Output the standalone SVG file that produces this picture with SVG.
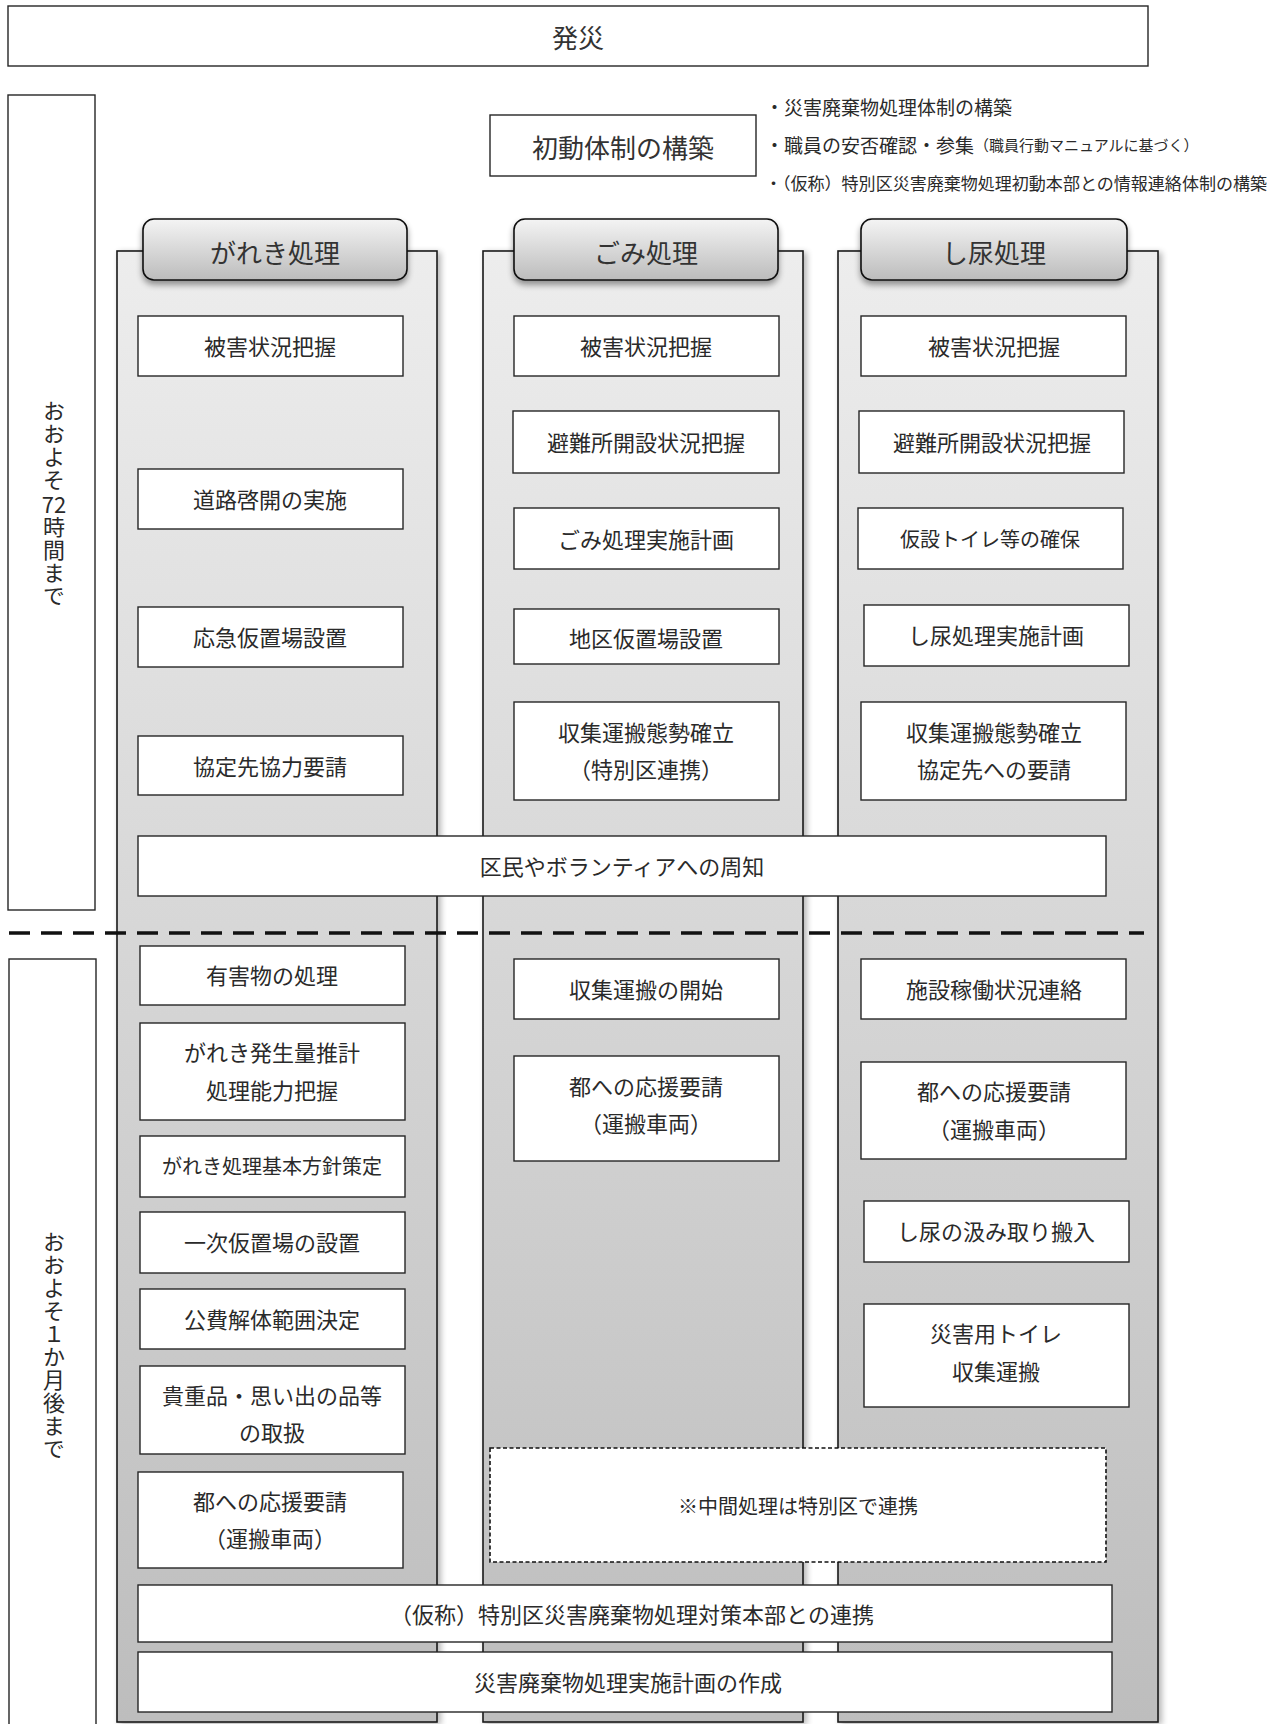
<svg xmlns="http://www.w3.org/2000/svg" width="1277" height="1724" viewBox="0 0 1277 1724">
<style>
.box{fill:#fff;stroke:#262626;stroke-width:1.4}
.dbox{fill:#fff;stroke:#111;stroke-width:1.6;stroke-dasharray:4 2.5}
.panel{stroke:#1a1a1a;stroke-width:1.6;fill:url(#pg)}
.hdr{stroke:#111;stroke-width:1.6;fill:url(#hg)}
.t{font-family:"Noto Sans CJK JP","Noto Sans CJK SC",sans-serif;font-size:22px;fill:#2a2a2a;text-anchor:middle;dominant-baseline:central}
.s{font-size:20px}
.h{font-size:26px;fill:#333}
.b{font-family:"Noto Sans CJK JP","Noto Sans CJK SC",sans-serif;font-size:19px;fill:#2a2a2a;dominant-baseline:central}
.b3{font-size:16.7px}
.v{font-family:"Noto Sans CJK JP","Noto Sans CJK SC",sans-serif;font-size:22px;fill:#2a2a2a;writing-mode:vertical-rl;text-orientation:upright;letter-spacing:1px}
</style>
<defs>
<linearGradient id="pg" x1="0" y1="0" x2="0" y2="1">
<stop offset="0" stop-color="#ededed"/>
<stop offset="1" stop-color="#bdbdbd"/>
</linearGradient>
<linearGradient id="hg" x1="0" y1="0" x2="0" y2="1">
<stop offset="0" stop-color="#f4f4f4"/>
<stop offset="1" stop-color="#bcbcbc"/>
</linearGradient>
<filter id="sh" x="-10%" y="-5%" width="125%" height="115%">
<feGaussianBlur in="SourceAlpha" stdDeviation="3"/>
<feOffset dx="3" dy="2"/>
<feComponentTransfer><feFuncA type="linear" slope="0.3"/></feComponentTransfer>
<feMerge><feMergeNode/><feMergeNode in="SourceGraphic"/></feMerge>
</filter>
<filter id="hs" x="-10%" y="-20%" width="120%" height="160%">
<feGaussianBlur in="SourceAlpha" stdDeviation="3"/>
<feOffset dx="0" dy="4"/>
<feComponentTransfer><feFuncA type="linear" slope="0.4"/></feComponentTransfer>
<feMerge><feMergeNode/><feMergeNode in="SourceGraphic"/></feMerge>
</filter>
</defs>
<rect width="1277" height="1724" fill="#fff"/>

<g id="hassai"><rect class="box" x="8" y="6" width="1140" height="60"/><text class="t h" x="578" y="36">発災</text></g>

<g id="period1"><rect class="box" x="8" y="95" width="87" height="815"/>
<text class="v" x="54" y="400">おおよそ</text>
<text class="t" x="54" y="503">72</text>
<text class="v" x="54" y="516">時間まで</text></g>
<g id="period2"><rect class="box" x="9" y="959" width="87" height="780"/>
<text class="v" x="54" y="1231">おおよそ１か月後まで</text></g>

<g id="shodo"><rect class="box" x="490" y="115" width="266" height="61"/><text class="t h" x="623" y="146">初動体制の構築</text></g>
<g id="bullets">
<text class="b" x="765" y="106">・災害廃棄物処理体制の構築</text>
<text class="b" x="765" y="144">・職員の安否確認・参集<tspan font-size="15">（職員行動マニュアルに基づく）</tspan></text>
<text class="b b3" x="765" y="183" textLength="502" lengthAdjust="spacingAndGlyphs">・（仮称）特別区災害廃棄物処理初動本部との情報連絡体制の構築</text>
</g>

<g id="col-gareki"><rect class="panel" filter="url(#sh)" x="117" y="251" width="320" height="1471"/>
<rect class="hdr" filter="url(#hs)" x="143" y="219" width="264" height="61" rx="11"/><text class="t h" x="275" y="251">がれき処理</text></g>
<g id="col-gomi"><rect class="panel" filter="url(#sh)" x="483" y="251" width="320" height="1471"/>
<rect class="hdr" filter="url(#hs)" x="514" y="219" width="264" height="61" rx="11"/><text class="t h" x="646" y="251">ごみ処理</text></g>
<g id="col-shinyo"><rect class="panel" filter="url(#sh)" x="838" y="251" width="320" height="1471"/>
<rect class="hdr" filter="url(#hs)" x="861" y="219" width="266" height="61" rx="11"/><text class="t h" x="994" y="251">し尿処理</text></g>

<g id="g1"><rect class="box" x="138" y="316" width="265" height="60"/><text class="t" x="270" y="345">被害状況把握</text></g>
<g id="g2"><rect class="box" x="138" y="469" width="265" height="60"/><text class="t" x="270" y="498">道路啓開の実施</text></g>
<g id="g3"><rect class="box" x="138" y="607" width="265" height="60"/><text class="t" x="270" y="636">応急仮置場設置</text></g>
<g id="g4"><rect class="box" x="138" y="736" width="265" height="59"/><text class="t" x="270" y="765">協定先協力要請</text></g>

<g id="m1"><rect class="box" x="514" y="316" width="265" height="60"/><text class="t" x="646" y="345">被害状況把握</text></g>
<g id="m2"><rect class="box" x="513" y="411" width="266" height="62"/><text class="t" x="646" y="441">避難所開設状況把握</text></g>
<g id="m3"><rect class="box" x="514" y="508" width="265" height="61"/><text class="t" x="646" y="538">ごみ処理実施計画</text></g>
<g id="m4"><rect class="box" x="514" y="609" width="265" height="55"/><text class="t" x="646" y="637">地区仮置場設置</text></g>
<g id="m5"><rect class="box" x="514" y="702" width="265" height="98"/><text class="t" x="646" y="731">収集運搬態勢確立</text><text class="t" x="646" y="768">（特別区連携）</text></g>

<g id="s1"><rect class="box" x="861" y="316" width="265" height="60"/><text class="t" x="994" y="345">被害状況把握</text></g>
<g id="s2"><rect class="box" x="859" y="411" width="265" height="62"/><text class="t" x="992" y="441">避難所開設状況把握</text></g>
<g id="s3"><rect class="box" x="858" y="508" width="265" height="61"/><text class="t s" x="990" y="538">仮設トイレ等の確保</text></g>
<g id="s4"><rect class="box" x="864" y="605" width="265" height="61"/><text class="t" x="996" y="634">し尿処理実施計画</text></g>
<g id="s5"><rect class="box" x="861" y="702" width="265" height="98"/><text class="t" x="994" y="731">収集運搬態勢確立</text><text class="t" x="994" y="768">協定先への要請</text></g>

<g id="shuchi"><rect class="box" x="138" y="836" width="968" height="60"/><text class="t" x="622" y="865">区民やボランティアへの周知</text></g>

<g id="separator"><line x1="9" y1="933" x2="1144" y2="933" stroke="#111" stroke-width="3.5" stroke-dasharray="21 11"/></g>

<g id="g5"><rect class="box" x="140" y="946" width="265" height="59"/><text class="t" x="272" y="974">有害物の処理</text></g>
<g id="g6"><rect class="box" x="140" y="1023" width="265" height="97"/><text class="t" x="272" y="1051">がれき発生量推計</text><text class="t" x="272" y="1089">処理能力把握</text></g>
<g id="g7"><rect class="box" x="140" y="1136" width="265" height="61"/><text class="t s" x="272" y="1165">がれき処理基本方針策定</text></g>
<g id="g8"><rect class="box" x="140" y="1212" width="265" height="61"/><text class="t" x="272" y="1241">一次仮置場の設置</text></g>
<g id="g9"><rect class="box" x="140" y="1289" width="265" height="60"/><text class="t" x="272" y="1318">公費解体範囲決定</text></g>
<g id="g10"><rect class="box" x="140" y="1366" width="265" height="88"/><text class="t" x="272" y="1394">貴重品・思い出の品等</text><text class="t" x="272" y="1431">の取扱</text></g>
<g id="g11"><rect class="box" x="138" y="1472" width="265" height="96"/><text class="t" x="270" y="1500">都への応援要請</text><text class="t" x="270" y="1537">（運搬車両）</text></g>

<g id="m6"><rect class="box" x="514" y="959" width="265" height="60"/><text class="t" x="646" y="988">収集運搬の開始</text></g>
<g id="m7"><rect class="box" x="514" y="1056" width="265" height="105"/><text class="t" x="646" y="1085">都への応援要請</text><text class="t" x="646" y="1122">（運搬車両）</text></g>

<g id="s6"><rect class="box" x="861" y="959" width="265" height="60"/><text class="t" x="994" y="988">施設稼働状況連絡</text></g>
<g id="s7"><rect class="box" x="861" y="1062" width="265" height="97"/><text class="t" x="994" y="1090">都への応援要請</text><text class="t" x="994" y="1128">（運搬車両）</text></g>
<g id="s8"><rect class="box" x="864" y="1201" width="265" height="61"/><text class="t" x="996" y="1230">し尿の汲み取り搬入</text></g>
<g id="s9"><rect class="box" x="864" y="1304" width="265" height="103"/><text class="t" x="996" y="1332">災害用トイレ</text><text class="t" x="996" y="1370">収集運搬</text></g>

<g id="chukan"><rect class="dbox" x="490" y="1448" width="616" height="114"/><text class="t s" x="798" y="1505">※中間処理は特別区で連携</text></g>

<g id="renkei"><rect class="box" x="138" y="1585" width="974" height="57"/><text class="t" x="632" y="1613">（仮称）特別区災害廃棄物処理対策本部との連携</text></g>
<g id="sakusei"><rect class="box" x="138" y="1652" width="974" height="60"/><text class="t" x="628" y="1681">災害廃棄物処理実施計画の作成</text></g>

<g id="connectors"/>
</svg>
